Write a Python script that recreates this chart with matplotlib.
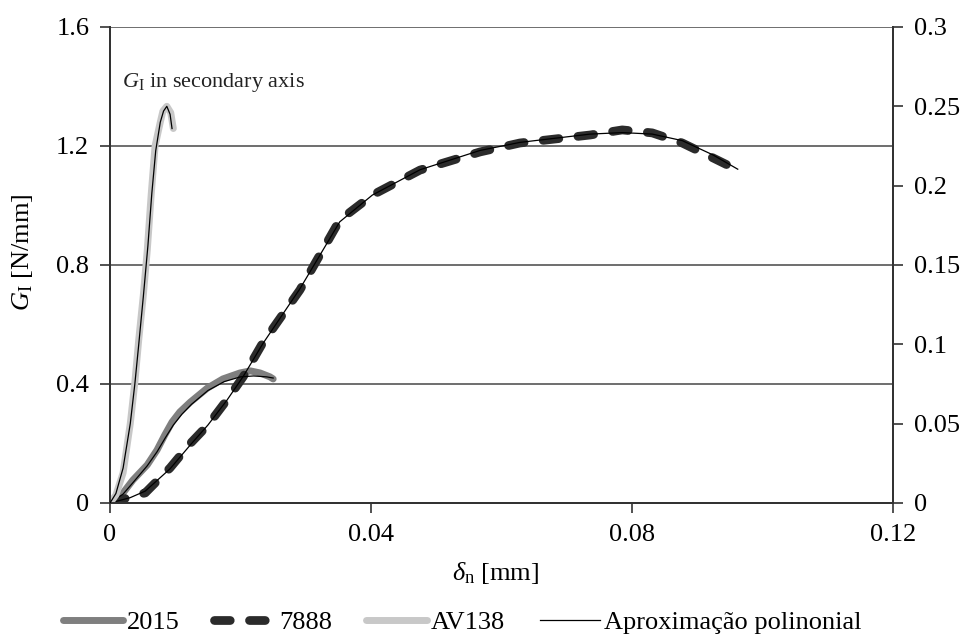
import matplotlib
matplotlib.use("Agg")
import matplotlib.pyplot as plt
from matplotlib.lines import Line2D

plt.rcParams['font.family'] = ['Liberation Serif', 'DejaVu Serif']
plt.rcParams['mathtext.fontset'] = 'custom'
plt.rcParams['mathtext.rm'] = 'Liberation Serif'
plt.rcParams['mathtext.it'] = 'Liberation Serif:italic'

# ---- data ----
x_2015 = [0, 0.0020, 0.0035, 0.0057, 0.0072, 0.0084, 0.0095, 0.0107, 0.0123, 0.0149,
          0.0173, 0.0199, 0.0215, 0.0230, 0.0245, 0.0250]
g_2015 = [0, 0.034, 0.077, 0.128, 0.178, 0.229, 0.272, 0.306, 0.339, 0.386,
          0.417, 0.437, 0.444, 0.437, 0.424, 0.417]
x_2015_fit = [0, 0.0020, 0.0035, 0.0057, 0.0072, 0.0085, 0.0097, 0.0110, 0.0125, 0.0150,
              0.0175, 0.0200, 0.0220, 0.0240, 0.0250]
g_2015_fit = [0, 0.030, 0.068, 0.125, 0.172, 0.220, 0.262, 0.298, 0.332, 0.378,
              0.408, 0.424, 0.427, 0.424, 0.420]

x_7888 = [0, 0.0031, 0.0054, 0.0092, 0.0123, 0.0150, 0.0179, 0.0204, 0.0234, 0.0291,
          0.0352, 0.0402, 0.0475, 0.0567, 0.0628, 0.0736, 0.0785, 0.0831, 0.0877, 0.0924, 0.0962]
g_7888 = [0, 0.020, 0.034, 0.118, 0.200, 0.262, 0.346, 0.424, 0.538, 0.716,
          0.951, 1.035, 1.119, 1.180, 1.210, 1.237, 1.254, 1.244, 1.210, 1.160, 1.119]
x_7888_fit = [0, 0.0031, 0.0054, 0.0092, 0.0123, 0.0150, 0.0179, 0.0204, 0.0234, 0.0291,
              0.0352, 0.0402, 0.0475, 0.0567, 0.0628, 0.0736, 0.0785, 0.0831, 0.0877, 0.0924, 0.0962]
g_7888_fit = [0, 0.018, 0.040, 0.115, 0.195, 0.262, 0.345, 0.425, 0.535, 0.720,
              0.945, 1.035, 1.120, 1.185, 1.212, 1.240, 1.245, 1.240, 1.218, 1.170, 1.122]

x_av138 = [0, 0.0009, 0.0020, 0.0031, 0.0038, 0.0044, 0.0051, 0.0057, 0.0063, 0.0069,
           0.0077, 0.0081, 0.0087, 0.0093, 0.0097]
g_av138 = [0, 0.005, 0.019, 0.050, 0.076, 0.103, 0.131, 0.159, 0.194, 0.225,
           0.240, 0.247, 0.250, 0.246, 0.236]
x_av138_fit = [0, 0.0009, 0.0020, 0.0031, 0.0038, 0.0044, 0.0051, 0.0058, 0.0064, 0.0070,
               0.0077, 0.0082, 0.0087, 0.0092, 0.0095]
g_av138_fit = [0, 0.006, 0.022, 0.050, 0.075, 0.100, 0.130, 0.162, 0.195, 0.222,
               0.240, 0.247, 0.250, 0.245, 0.236]

yticks_left = [0, 0.4, 0.8, 1.2, 1.6]
ylabels_left = ['0', '0.4', '0.8', '1.2', '1.6']
yticks_right = [0, 0.05, 0.1, 0.15, 0.2, 0.25, 0.3]
ylabels_right = ['0', '0.05', '0.1', '0.15', '0.2', '0.25', '0.3']
xticks = [0, 0.04, 0.08, 0.12]
xlabels = ['0', '0.04', '0.08', '0.12']
series_names = ['2015', '7888', 'AV138', 'Aproximação polinonial']

c2015 = '#7f7f7f'
c7888 = '#2b2b2b'
cav = '#c8c8c8'
spine_c = '#333333'
fs = 19
dash = (1.8, 2.2)

fig = plt.figure(figsize=(9.67, 6.35), dpi=100)
ax = fig.add_axes([0.1138, 0.2079, 0.8097, 0.7496])
ax2 = ax.twinx()

for y in yticks_left[1:]:
    ax.axhline(y, color='#6e6e6e', lw=1.4, zorder=0)

ax.plot(x_2015, g_2015, color=c2015, lw=5, solid_capstyle='round', solid_joinstyle='round', zorder=2)
ax.plot(x_2015_fit, g_2015_fit, color='black', lw=0.9, zorder=4)
ax.plot(x_7888, g_7888, color=c7888, lw=6.3, dashes=dash, dash_capstyle='round', zorder=3)
ax.plot(x_7888_fit, g_7888_fit, color='black', lw=0.9, zorder=4)

ax2.plot(x_av138, g_av138, color=cav, lw=5, solid_capstyle='round', solid_joinstyle='round', zorder=2)
ax2.plot(x_av138_fit, g_av138_fit, color='black', lw=0.9, zorder=4)

ax.set_xlim(0, 0.12)
ax.set_ylim(0, 1.6)
ax2.set_ylim(0, 0.3)
ax.set_xticks(xticks)
ax.set_xticklabels(xlabels)
ax.set_yticks(yticks_left)
ax.set_yticklabels(ylabels_left)
ax2.set_yticks(yticks_right)
ax2.set_yticklabels(ylabels_right)

for a in (ax, ax2):
    a.spines['top'].set_visible(False)
    for s in ('left', 'right', 'bottom'):
        a.spines[s].set_color(spine_c)
        a.spines[s].set_linewidth(1.4)
    a.tick_params(direction='out', length=7, width=1.2, color=spine_c, labelsize=fs, pad=8)

ax.set_xlabel(r'$\delta_\mathrm{n}$ [mm]', fontsize=fs)
ax.xaxis.set_label_coords(0.492, -0.12)
ax.set_ylabel(r'$G_\mathrm{I}$ [N/mm]', fontsize=fs)
ax.yaxis.set_label_coords(-0.096, 0.527)

ax.text(0.0018, 1.415, r'$G_\mathrm{I}$ in secondary axis', fontsize=16, va='center', ha='left', color='#222222')

handles = [
    Line2D([], [], color=c2015, lw=5, solid_capstyle='round'),
    Line2D([], [], color=c7888, lw=6.3, dashes=dash, dash_capstyle='round'),
    Line2D([], [], color=cav, lw=5, solid_capstyle='round'),
    Line2D([], [], color='black', lw=0.9),
]
fig.legend(handles, series_names, loc='center', bbox_to_anchor=(0.478, 0.02), ncol=4, frameon=False,
           fontsize=fs, handlelength=2.3, handletextpad=0.15, columnspacing=1.3)

fig.savefig('out.png', dpi=100)
